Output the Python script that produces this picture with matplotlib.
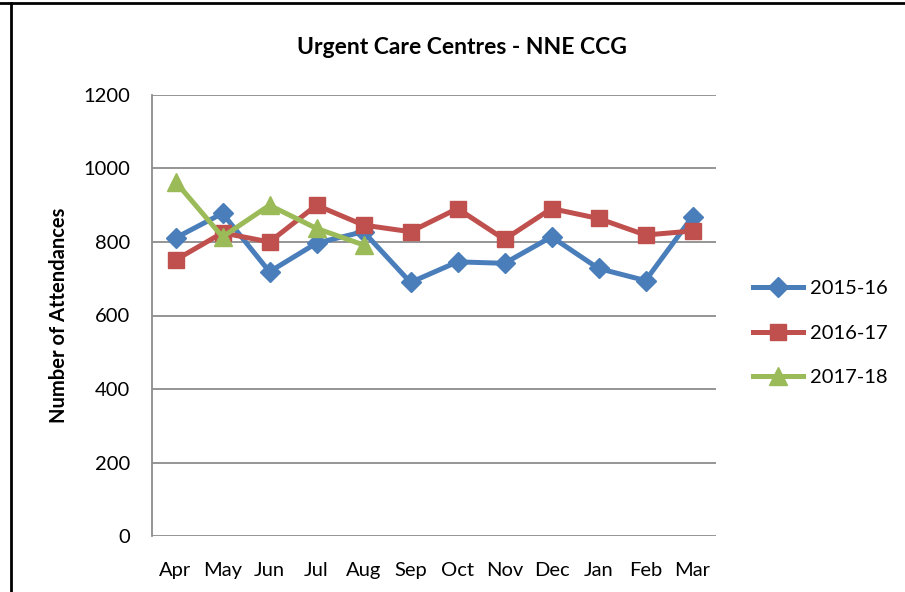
import matplotlib.pyplot as plt
from matplotlib.lines import Line2D
import numpy as np

plt.rcParams['font.family'] = ['Lato', 'DejaVu Sans']

months = ["Apr", "May", "Jun", "Jul", "Aug", "Sep", "Oct", "Nov", "Dec", "Jan", "Feb", "Mar"]
att_2015_16 = [811, 878, 719, 797, 828, 690, 746, 742, 814, 728, 695, 869]
att_2016_17 = [751, 825, 800, 900, 846, 828, 891, 807, 891, 864, 819, 830]
att_2017_18 = [964, 814, 900, 837, 792]
yticks = [0, 200, 400, 600, 800, 1000, 1200]

fig = plt.figure(figsize=(9.05, 5.92), dpi=100)
ax = fig.add_axes([152 / 905, 1 - 536 / 592, 564 / 905, 441 / 592])

x = np.arange(len(months))
ax.plot(x, att_2015_16, color="#4A7EBB", lw=3.6, marker="D", ms=10,
        label="2015-16", zorder=3)
ax.plot(x, att_2016_17, color="#C0504D", lw=3.6, marker="s", ms=12,
        label="2016-17", zorder=3)
ax.plot(x[:len(att_2017_18)], att_2017_18, color="#9BBB59", lw=3.6, marker="^",
        ms=13, label="2017-18", zorder=4)

ax.set_xlim(-0.5, len(months) - 0.5)
ax.set_ylim(0, 1200)
ax.set_yticks(yticks)
ax.set_xticks(x)
ax.set_xticklabels(months)
ax.tick_params(length=0, labelsize=14.5, pad=19)
ax.tick_params(axis="y", pad=16)
ax.yaxis.grid(True, color="#8c8c8c", lw=1.3)
ax.set_axisbelow(True)
for side in ["top", "right", "bottom"]:
    ax.spines[side].set_visible(False)
ax.spines["left"].set_color("#8c8c8c")
ax.spines["left"].set_linewidth(1.3)

ax.set_ylabel("Number of Attendances", fontsize=14.5, fontweight="bold", labelpad=10)
fig.text(462 / 905, 1 - 47 / 592, "Urgent Care Centres - NNE CCG",
         ha="center", va="center", fontsize=16.5, fontweight="bold")

ax.legend(loc="center left", bbox_to_anchor=(1.065, 0.46), frameon=False,
          fontsize=14.5, handlelength=2.5, labelspacing=1.35, handletextpad=0.35,
          borderpad=0, borderaxespad=0)

# chart frame
fig.add_artist(Line2D([0, 1], [1 - 3 / 592] * 2, color="black", lw=2))
fig.add_artist(Line2D([11 / 905] * 2, [0, 1 - 3 / 592], color="black", lw=2))

fig.savefig("out.png", dpi=100)
